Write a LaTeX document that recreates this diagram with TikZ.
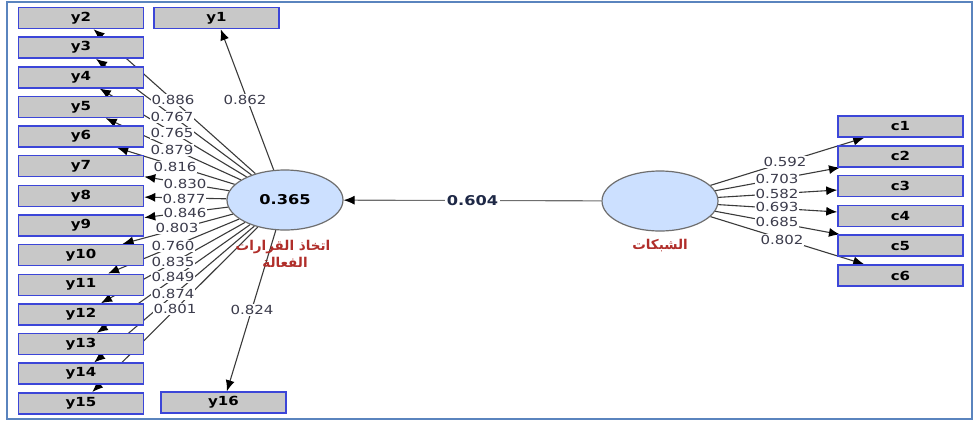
\documentclass[tikz,border=0pt]{standalone}
\usepackage{fontspec}
\setmainfont{DejaVu Sans}
\newfontfamily\lblfont[FakeStretch=1.2]{DejaVu Sans}
\newfontfamily\arabicfont[Script=Arabic]{DejaVu Sans}
\TeXXeTstate=1
\usetikzlibrary{shapes.geometric,arrows.meta}
\pgfdeclarelayer{background}
\pgfsetlayers{background,main}

\definecolor{boxfill}{HTML}{C8C8C8}
\definecolor{boxedge}{HTML}{3C46D8}
\definecolor{latfill}{HTML}{CCE0FF}
\definecolor{latedge}{HTML}{6E6E6E}
\definecolor{linkgray}{HTML}{3A3A3A}
\definecolor{labelgray}{HTML}{3C3C4C}
\definecolor{pathnavy}{HTML}{1E2846}
\definecolor{arabred}{HTML}{B02E2A}
\definecolor{framecol}{HTML}{5A84BE}

\tikzset{
  indicator/.style={draw=boxedge, line width=1.5pt, fill=boxfill,
    minimum width=125pt, minimum height=21pt, inner sep=0pt,
    font=\lblfont\bfseries\fontsize{12.5}{12.5}\selectfont},
  latent/.style={ellipse, draw=latedge, line width=1.2pt, fill=latfill,
    minimum width=116pt, minimum height=60pt, inner sep=0pt,
    font=\lblfont\bfseries\fontsize{13.5}{13.5}\selectfont},
  link/.style={draw=linkgray, line width=1.1pt,
    -{Latex[length=11pt,width=9pt,color=black]}},
  loading/.style={fill=white, inner sep=0.8pt, text=labelgray,
    font=\lblfont\fontsize{12.5}{12.5}\selectfont},
  pathlabel/.style={fill=white, inner sep=2pt, text=pathnavy,
    font=\lblfont\bfseries\fontsize{13.5}{13.5}\selectfont},
  latname/.style={text=arabred, inner sep=0pt,
    font=\arabicfont\bfseries\fontsize{13.5}{13.5}\selectfont}
}

\begin{document}
\begin{tikzpicture}[x=1pt,y=-1pt]
\useasboundingbox (0,0) rectangle (974,421);
\draw[framecol, line width=1.5pt] (7,2) rectangle (972,419);

% latent variables
\node[latent] (e1) at (285,200) {0.365};
\node[latent] (e2) at (660,201) {};
\node[latname] (n1a) at (283,247) {\beginR اتخاذ القرارات\endR};
\node[latname] (n1b) at (285,262) {\beginR الفعالة\endR};
\node[latname] (n2) at (660,246) {\beginR الشبكات\endR};

% indicators of the left construct
\node[indicator] (y1) at (216.5,18) {y1};
\foreach \i in {2,...,15}
  \node[indicator] (y\i) at (81,{18+29.64*(\i-2)}) {y\i};
\node[indicator] (y16) at (223.5,402.5) {y16};

% indicators of the right construct
\foreach \i in {1,...,6}
  \node[indicator] (c\i) at (900.5,{126.5+29.8*(\i-1)}) {c\i};

% outer loadings, drawn beneath the boxes
\begin{pgfonlayer}{background}
  \foreach \i in {1,...,16}
    \draw[link] (e1) -- (y\i);
  \foreach \i in {1,...,6}
    \draw[link] (e2) -- (c\i);
\end{pgfonlayer}

% structural path
\draw[link, draw=latedge] (e2) -- node[pathlabel] (p) {0.604} (e1);

% loading values
\foreach \v/\x/\y [count=\k] in {
  0.886/173/100, 0.767/172/117, 0.765/172/133, 0.879/172/150,
  0.816/175/167, 0.830/185/184, 0.877/184/199, 0.846/185/213,
  0.803/177/228, 0.760/173/246, 0.835/173/262, 0.849/173/277,
  0.874/173/294, 0.801/175/309, 0.862/245/100, 0.824/252/310}
  \node[loading] (ly\k) at (\x,\y) {\v};
\foreach \v/\x/\y [count=\k] in {
  0.592/785/162, 0.703/777/179, 0.582/777/194,
  0.693/777/207, 0.685/777/222, 0.802/782/240}
  \node[loading] (lc\k) at (\x,\y) {\v};
\end{tikzpicture}
\end{document}
